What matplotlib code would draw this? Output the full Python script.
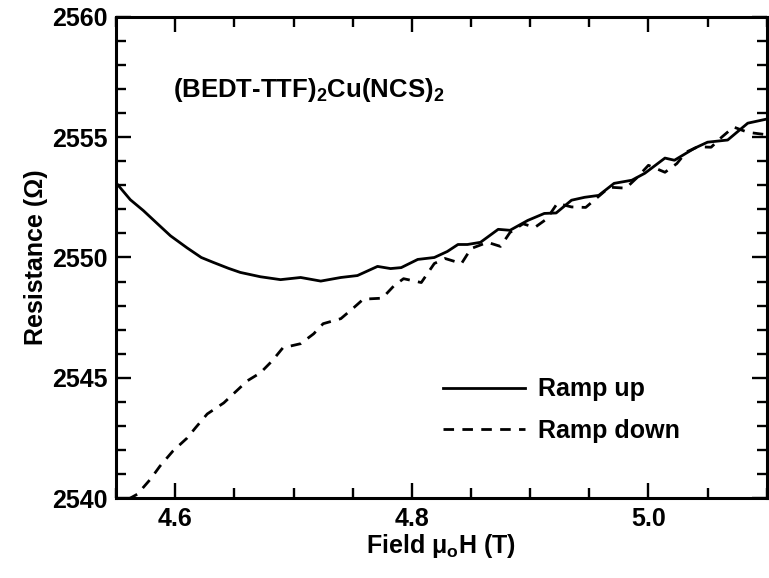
import matplotlib
matplotlib.use('Agg')
import matplotlib.pyplot as plt
from matplotlib.ticker import MultipleLocator

# Ramp up (solid)
fieldUp = [4.550, 4.562, 4.573, 4.585, 4.596, 4.610, 4.622, 4.632, 4.645, 4.655,
           4.672, 4.689, 4.706, 4.723, 4.740, 4.754, 4.771, 4.782, 4.791, 4.805,
           4.819, 4.830, 4.839, 4.847, 4.858, 4.873, 4.883, 4.898, 4.912, 4.922,
           4.935, 4.946, 4.958, 4.971, 4.986, 4.997, 5.014, 5.022, 5.039, 5.050,
           5.067, 5.084, 5.100]
resUp = [2553.1, 2552.4, 2551.95, 2551.4, 2550.9, 2550.4, 2550.0, 2549.8, 2549.55, 2549.38,
         2549.2, 2549.08, 2549.17, 2549.02, 2549.17, 2549.25, 2549.63, 2549.54, 2549.58, 2549.92,
         2550.0, 2550.25, 2550.54, 2550.54, 2550.63, 2551.17, 2551.13, 2551.54, 2551.83, 2551.85,
         2552.38, 2552.5, 2552.58, 2553.08, 2553.21, 2553.5, 2554.13, 2554.04, 2554.54, 2554.79,
         2554.88, 2555.58, 2555.75]

# Ramp down (dashed)
fieldDown = [4.560, 4.568, 4.579, 4.587, 4.598, 4.610, 4.617, 4.627, 4.641, 4.649,
             4.661, 4.672, 4.682, 4.691, 4.706, 4.717, 4.725, 4.740, 4.751, 4.759,
             4.775, 4.785, 4.793, 4.808, 4.819, 4.828, 4.842, 4.850, 4.864, 4.875,
             4.883, 4.894, 4.904, 4.914, 4.923, 4.935, 4.947, 4.957, 4.967, 4.981,
             4.990, 5.000, 5.014, 5.024, 5.032, 5.042, 5.053, 5.062, 5.072, 5.084,
             5.100]
resDown = [2539.95, 2540.17, 2540.79, 2541.33, 2541.96, 2542.5, 2542.92, 2543.5, 2543.96, 2544.33,
           2544.88, 2545.21, 2545.71, 2546.25, 2546.42, 2546.83, 2547.25, 2547.46, 2547.92, 2548.27,
           2548.31, 2548.83, 2549.12, 2548.96, 2549.75, 2549.96, 2549.75, 2550.37, 2550.63, 2550.46,
           2551.04, 2551.4, 2551.25, 2551.6, 2552.25, 2552.1, 2552.08, 2552.5, 2552.92, 2552.88,
           2553.3, 2553.83, 2553.54, 2553.9, 2554.38, 2554.6, 2554.58, 2555.0, 2555.42, 2555.2,
           2555.1]

plt.rcParams['font.family'] = ['Liberation Sans', 'DejaVu Sans']
plt.rcParams['font.weight'] = 'bold'
plt.rcParams['axes.labelweight'] = 'bold'
plt.rcParams['mathtext.default'] = 'regular'

fs = 18

fig = plt.figure(figsize=(7.69, 5.78), dpi=100)
ax = fig.add_axes([0.151, 0.138, 0.846, 0.833])

ax.plot(fieldUp, resUp, color='black', lw=2.0, label='Ramp up')
ax.plot(fieldDown, resDown, color='black', lw=2.0, dashes=(3.8, 3.0), label='Ramp down')

ax.set_xlim(4.55, 5.10)
ax.set_ylim(2540, 2560)
ax.xaxis.set_major_locator(MultipleLocator(0.2))
ax.xaxis.set_minor_locator(MultipleLocator(0.05))
ax.yaxis.set_major_locator(MultipleLocator(5))
ax.yaxis.set_minor_locator(MultipleLocator(1))
ax.xaxis.set_major_formatter(matplotlib.ticker.FormatStrFormatter('%.1f'))
ax.tick_params(which='both', direction='in', top=True, right=True, width=1.7, labelsize=fs, pad=6)
ax.tick_params(which='major', length=11)
ax.tick_params(which='minor', length=7)
for s in ax.spines.values():
    s.set_linewidth(2.2)

ax.set_xlabel('Field μ$_o$H (T)', fontsize=fs, labelpad=1)
ax.set_ylabel('Resistance (Ω)', fontsize=fs, labelpad=3)
ax.text(0.088, 0.848, '(BEDT-TTF)$_2$Cu(NCS)$_2$', transform=ax.transAxes,
        fontsize=18.5, va='center', ha='left')

ax.legend(loc='upper left', bbox_to_anchor=(0.483, 0.277), frameon=False,
          fontsize=fs, handlelength=3.3, handletextpad=0.5, labelspacing=0.7, borderpad=0)

plt.savefig('out.png', dpi=100)
plt.close()
